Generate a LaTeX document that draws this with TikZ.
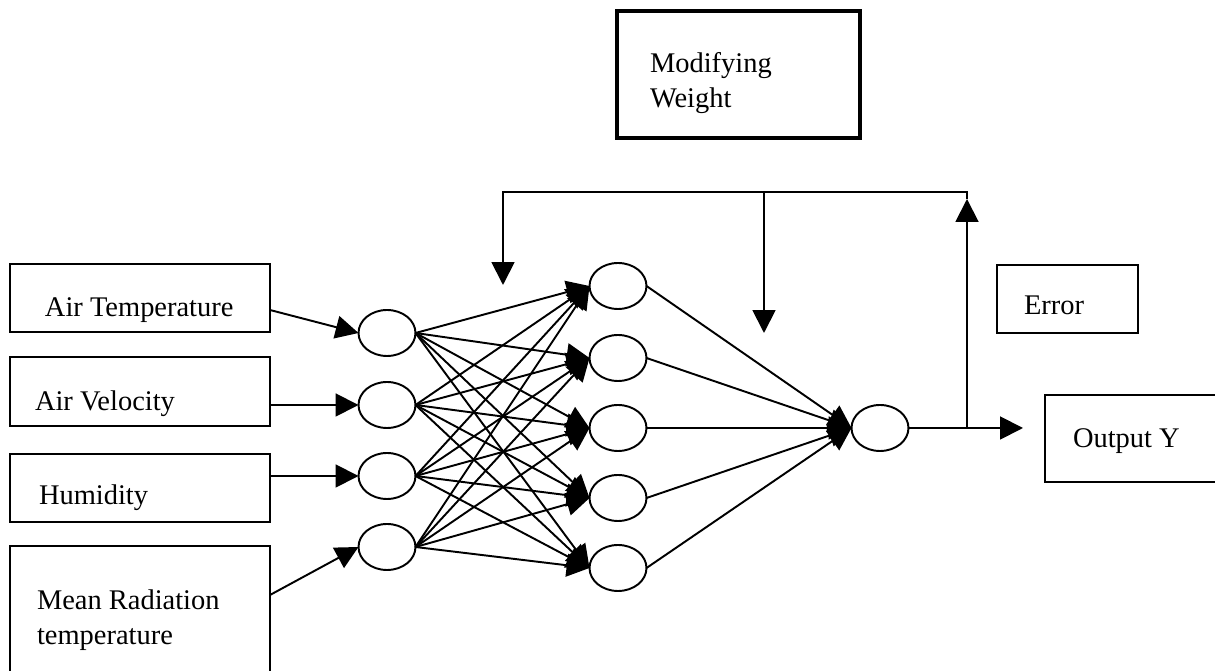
\documentclass[tikz,border=0pt]{standalone}
\usepackage{fontspec}
\setmainfont{Liberation Serif}
\usetikzlibrary{arrows.meta,shapes.geometric}
\begin{document}
\begin{tikzpicture}[x=0.02cm,y=-0.02cm,
  box/.style={draw,line width=1.3pt,rectangle,inner sep=0pt,outer sep=0pt},
  neuron/.style={draw,line width=1.1pt,ellipse,minimum width=1.14cm,minimum height=0.92cm,inner sep=0pt,outer sep=0pt},
  lbl/.style={anchor=base west,inner sep=0pt,outer sep=0pt,font=\fontsize{16.2pt}{19.8pt}\selectfont},
  link/.style={line width=1.1pt},
  arr/.style={line width=1.1pt,-{Triangle[length=13pt,width=13pt]}},
]
\useasboundingbox (0,0) rectangle (1215,671);
\clip (0,0) rectangle (1215,671);

% input boxes
\node[box,minimum width=5.2cm,minimum height=1.36cm] (b1) at (140,298) {};
\node[box,minimum width=5.2cm,minimum height=1.38cm] (b2) at (140,391.5) {};
\node[box,minimum width=5.2cm,minimum height=1.36cm] (b3) at (140,488) {};
\node[box,minimum width=5.2cm,minimum height=3.76cm] (b4) at (140,640) {};
\node[lbl] (t1) at (45,317) {Air Temperature};
\node[lbl] (t2) at (35,411) {Air Velocity};
\node[lbl] (t3) at (39,505) {Humidity};
\node[lbl] (t4a) at (37,610) {Mean Radiation};
\node[lbl] (t4b) at (37,645) {temperature};

% weight update, error and output boxes
\node[box,line width=1.8pt,minimum width=4.86cm,minimum height=2.54cm] (mw) at (738.5,74.5) {};
\node[lbl] (tmw1) at (650,73) {Modifying};
\node[lbl] (tmw2) at (650,108) {Weight};
\node[box,minimum width=2.82cm,minimum height=1.36cm] (err) at (1067.5,299) {};
\node[lbl] (terr) at (1024,315) {Error};
\node[box,minimum width=4.0cm,minimum height=1.74cm] (out) at (1145,438.5) {};
\node[lbl] (tout) at (1073,448) {Output Y};

% neurons
\foreach \k/\y in {1/333,2/405,3/476,4/547}
  \node[neuron] (i\k) at (387,\y) {};
\foreach \k/\y in {1/286,2/358,3/428,4/498,5/568}
  \node[neuron] (h\k) at (618,\y) {};
\node[neuron] (o) at (880,428) {};

% inputs into the first layer
\draw[arr] ([yshift=-0.24cm]b1.east) -- (i1.west);
\draw[arr] (b2.east |- i2.west) -- (i2.west);
\draw[arr] (b3.east |- i3.west) -- (i3.west);
\draw[arr] ([yshift=0.9cm]b4.east) -- (i4.west);

% fully connected layers
\foreach \a in {1,...,4}
  \foreach \b in {1,...,5}
    \draw[arr] (i\a.east) -- (h\b.west);
\foreach \b in {1,...,5}
  \draw[arr] (h\b.east) -- (o.west);

% output and feedback loop
\coordinate (br) at (967,428);
\coordinate (ytip) at (1023,428);
\coordinate (uptip) at (967,199);
\coordinate (fbR) at (967,192);
\coordinate (fbM) at (764,192);
\coordinate (fbL) at (503,192);
\coordinate (dnM) at (764,333);
\coordinate (dnL) at (503,285);
\draw[link] (o.east) -- (br);
\draw[arr] (br) -- (ytip);
\draw[arr] (br) -- (uptip);
\draw[arr] (uptip) -- (fbR) -- (fbL) -- (dnL);
\draw[arr] (fbM) -- (dnM);
\end{tikzpicture}
\end{document}
